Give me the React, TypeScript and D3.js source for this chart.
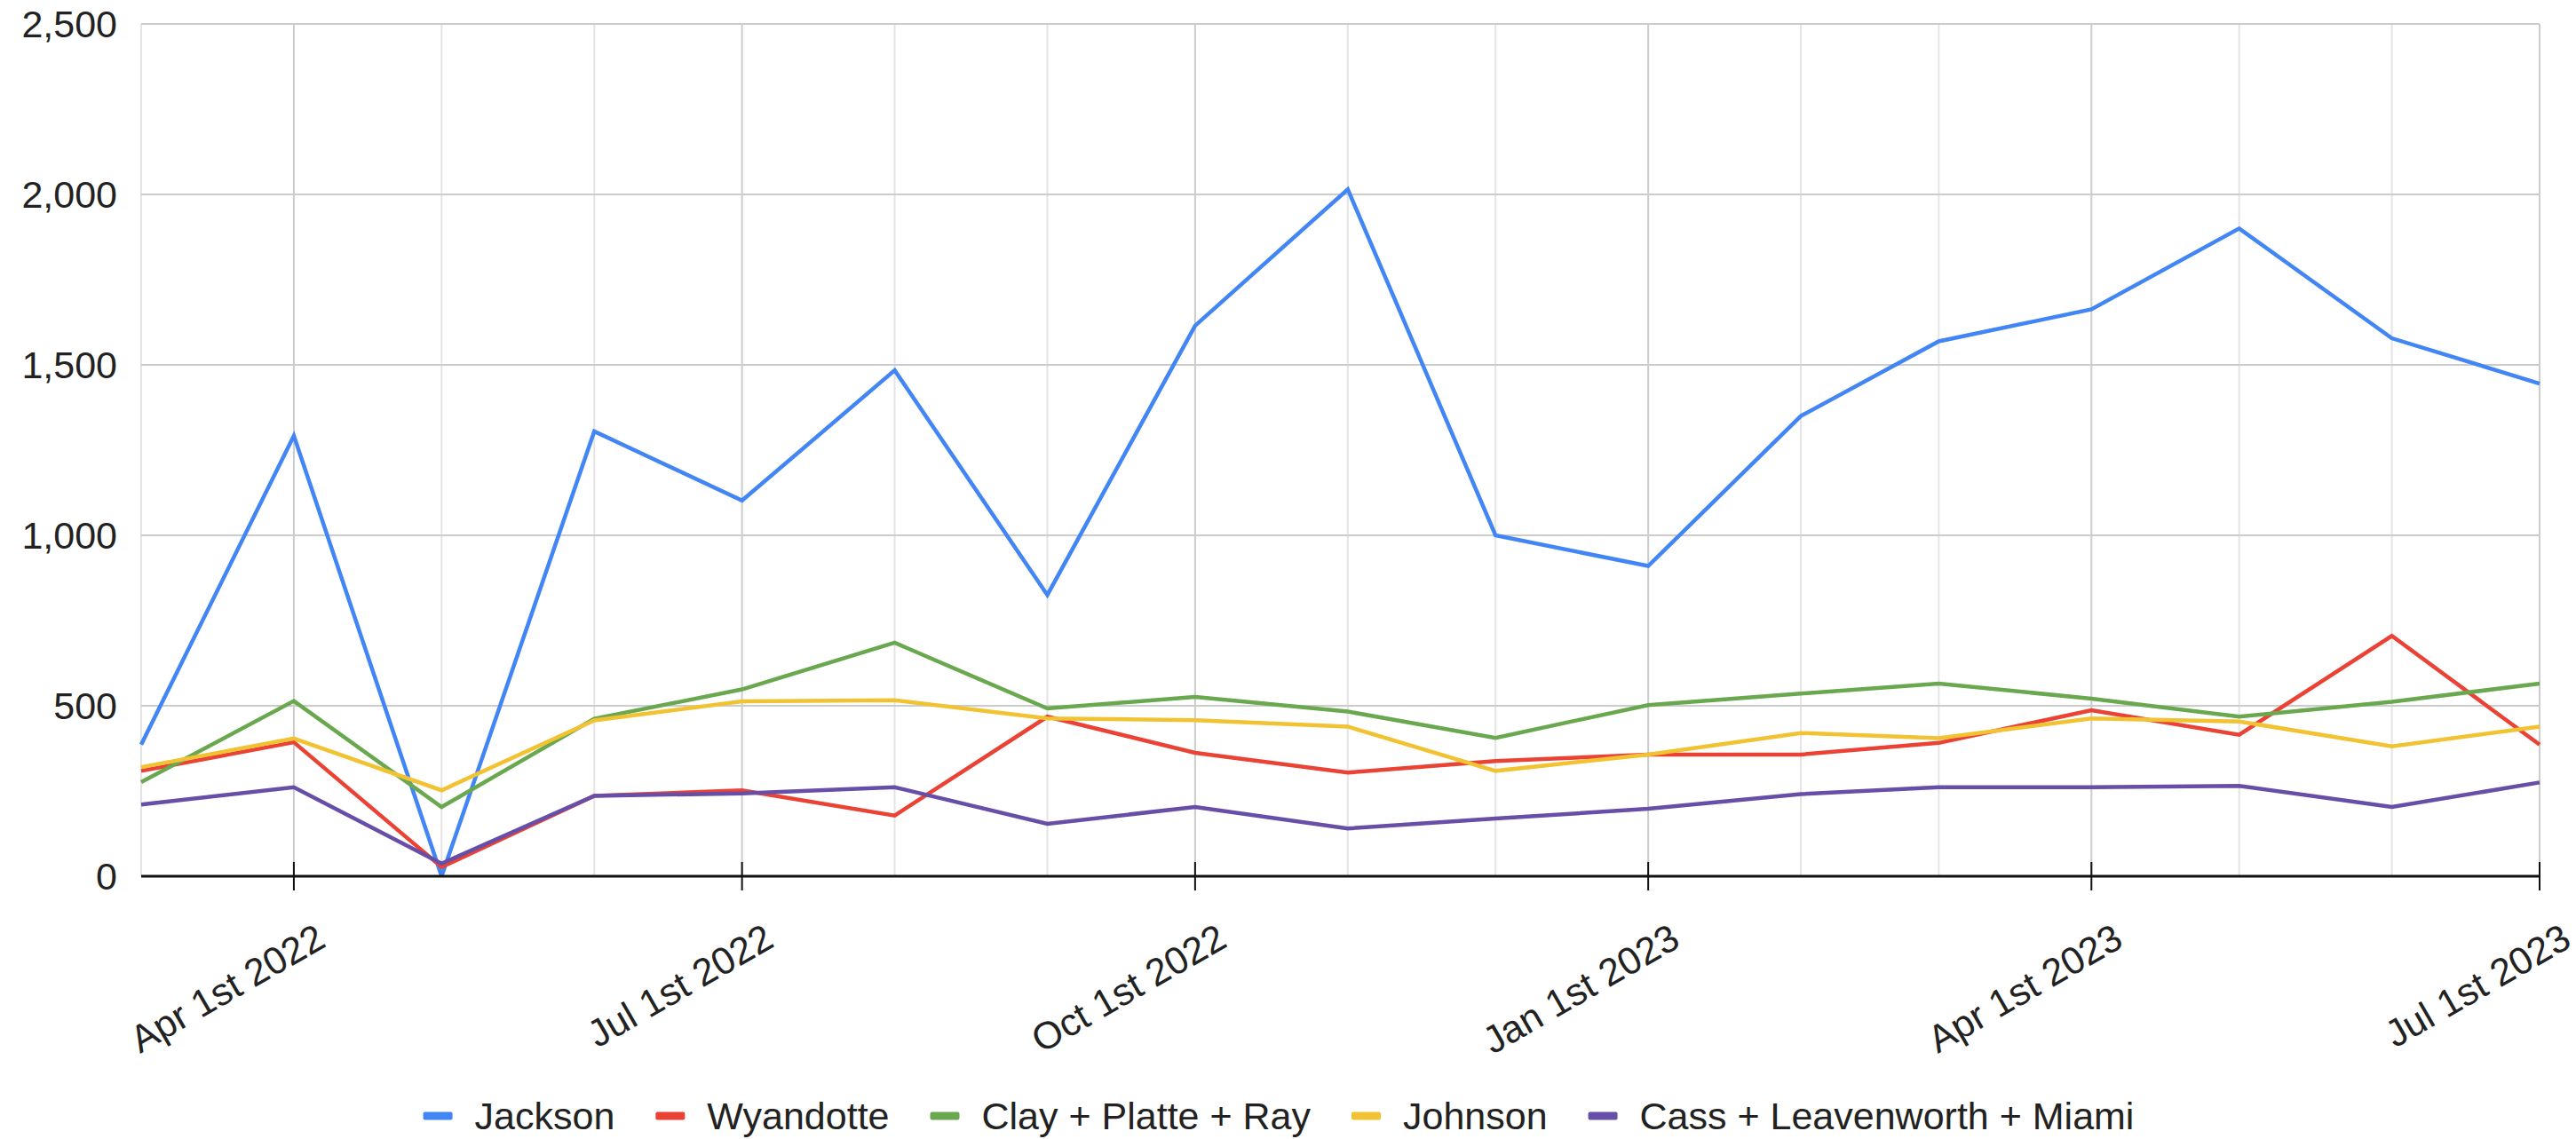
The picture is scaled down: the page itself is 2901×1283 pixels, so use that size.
import { useEffect, useRef } from "react";
import * as d3 from "d3";

const months = [
  "2022-03-01", "2022-04-01", "2022-05-01", "2022-06-01", "2022-07-01", "2022-08-01",
  "2022-09-01", "2022-10-01", "2022-11-01", "2022-12-01", "2023-01-01", "2023-02-01",
  "2023-03-01", "2023-04-01", "2023-05-01", "2023-06-01", "2023-07-01",
];

const jackson = [386, 1292, 0, 1305, 1102, 1484, 825, 1615, 2015, 1000, 910, 1350, 1569, 1663, 1900, 1578, 1445];
const wyandotte = [309, 393, 27, 236, 252, 178, 468, 362, 304, 338, 357, 357, 391, 487, 415, 705, 386];
const clayPlatteRay = [276, 514, 203, 462, 548, 685, 492, 526, 483, 406, 502, 536, 565, 521, 468, 512, 565];
const johnson = [320, 404, 252, 457, 513, 516, 463, 458, 439, 309, 357, 420, 405, 463, 454, 381, 439];
const cassLeavenworthMiami = [210, 261, 37, 236, 243, 261, 154, 203, 140, 169, 198, 241, 261, 261, 265, 203, 275];

const seriesNames = ["Jackson", "Wyandotte", "Clay + Platte + Ray", "Johnson", "Cass + Leavenworth + Miami"];
const seriesValues = [jackson, wyandotte, clayPlatteRay, johnson, cassLeavenworthMiami];
const seriesColors = ["#4285F4", "#EA4335", "#6AA84F", "#F1C232", "#674EA7"];

const yTicks = [0, 500, 1000, 1500, 2000, 2500];
const labelDates = ["2022-04-01", "2022-07-01", "2022-10-01", "2023-01-01", "2023-04-01", "2023-07-01"];

const parse = d3.timeParse("%Y-%m-%d");

// "Apr 1st 2022"
const fmtDate = (d: Date) => `${d3.timeFormat("%b")(d)} ${d.getDate()}st ${d.getFullYear()}`;

const App = () => {
  const svgRef = useRef<SVGSVGElement>(null);

  useEffect(() => {
    const W = 2901;
    const H = 1283;
    const svg = d3.select(svgRef.current);
    svg.selectAll("*").remove();
    svg.attr("width", W).attr("height", H);

    const font = "'Liberation Sans', Arial, sans-serif";
    const fontSize = 43;
    const textColor = "#222222";

    const left = 159;
    const right = 2860;
    const top = 27;
    const bottom = 987;

    const dates = months.map((m) => parse(m) as Date);
    const x = d3.scaleTime()
      .domain([dates[0], dates[dates.length - 1]])
      .range([left, right]);
    const y = d3.scaleLinear().domain([0, 2500]).range([bottom, top]);

    const majorSet = new Set(labelDates);

    // clip
    svg.append("defs")
      .append("clipPath")
      .attr("id", "plot-clip")
      .append("rect")
      .attr("x", left - 10)
      .attr("y", 0)
      .attr("width", right - left + 20)
      .attr("height", bottom);

    // vertical gridlines (monthly, quarters darker)
    svg.append("g")
      .selectAll("line")
      .data(months)
      .enter()
      .append("line")
      .attr("x1", (m) => x(parse(m) as Date))
      .attr("x2", (m) => x(parse(m) as Date))
      .attr("y1", top)
      .attr("y2", bottom)
      .attr("stroke", (m) => (majorSet.has(m) ? "#cccccc" : "#e4e4e4"))
      .attr("stroke-width", 2);

    // horizontal gridlines
    svg.append("g")
      .selectAll("line")
      .data(yTicks.filter((t) => t > 0))
      .enter()
      .append("line")
      .attr("x1", left)
      .attr("x2", right)
      .attr("y1", (t) => y(t))
      .attr("y2", (t) => y(t))
      .attr("stroke", "#cccccc")
      .attr("stroke-width", 2);

    // y labels
    svg.append("g")
      .selectAll("text")
      .data(yTicks)
      .enter()
      .append("text")
      .attr("x", 132)
      .attr("y", (t) => y(t))
      .attr("dy", "0.36em")
      .attr("text-anchor", "end")
      .style("font-family", font)
      .style("font-size", `${fontSize}px`)
      .attr("fill", textColor)
      .text((t) => d3.format(",")(t));

    // lines
    const line = d3.line<number>()
      .x((_, i) => x(dates[i]))
      .y((v) => y(v));

    const lines = svg.append("g").attr("clip-path", "url(#plot-clip)");
    seriesValues.forEach((vals, i) => {
      lines.append("path")
        .datum(vals)
        .attr("d", line)
        .attr("fill", "none")
        .attr("stroke", seriesColors[i])
        .attr("stroke-width", 4.5)
        .attr("stroke-linejoin", "miter");
    });

    // x axis line and ticks
    svg.append("line")
      .attr("x1", left)
      .attr("x2", right)
      .attr("y1", bottom)
      .attr("y2", bottom)
      .attr("stroke", "#111")
      .attr("stroke-width", 3);

    const ld = labelDates.map((m) => parse(m) as Date);
    svg.append("g")
      .selectAll("line")
      .data(ld)
      .enter()
      .append("line")
      .attr("x1", (d) => x(d))
      .attr("x2", (d) => x(d))
      .attr("y1", bottom - 16)
      .attr("y2", bottom + 16)
      .attr("stroke", "#111")
      .attr("stroke-width", 2);

    // x labels, rotated
    svg.append("g")
      .selectAll("text")
      .data(ld)
      .enter()
      .append("text")
      .attr("text-anchor", "end")
      .attr("transform", (d) => `translate(${x(d) + 38},${bottom + 78}) rotate(-30)`)
      .style("font-family", font)
      .style("font-size", `${fontSize}px`)
      .attr("fill", textColor)
      .text((d) => fmtDate(d));

    // legend
    const legend = svg.append("g");
    const swW = 33;
    const swH = 9;
    const swGap = 25;
    const itemGap = 46;
    const items = seriesNames.map((name, i) => {
      const g = legend.append("g");
      g.append("rect")
        .attr("width", swW)
        .attr("height", swH)
        .attr("rx", 2)
        .attr("y", -swH / 2)
        .attr("fill", seriesColors[i]);
      const t = g.append("text")
        .attr("x", swW + swGap)
        .attr("dy", "0.36em")
        .style("font-family", font)
        .style("font-size", `${fontSize}px`)
        .attr("fill", textColor)
        .text(name);
      const w = swW + swGap + (t.node() as SVGTextElement).getComputedTextLength();
      return { g, w };
    });
    const total = d3.sum(items, (d) => d.w) + itemGap * (items.length - 1);
    let cx = 1440 - total / 2;
    items.forEach((it) => {
      it.g.attr("transform", `translate(${cx},1257)`);
      cx += it.w + itemGap;
    });
  }, []);

  return (
    <svg
      ref={svgRef}
      style={{ position: "absolute", left: 0, top: 0, background: "#ffffff", display: "block" }}
    ></svg>
  );
};

export default App;
